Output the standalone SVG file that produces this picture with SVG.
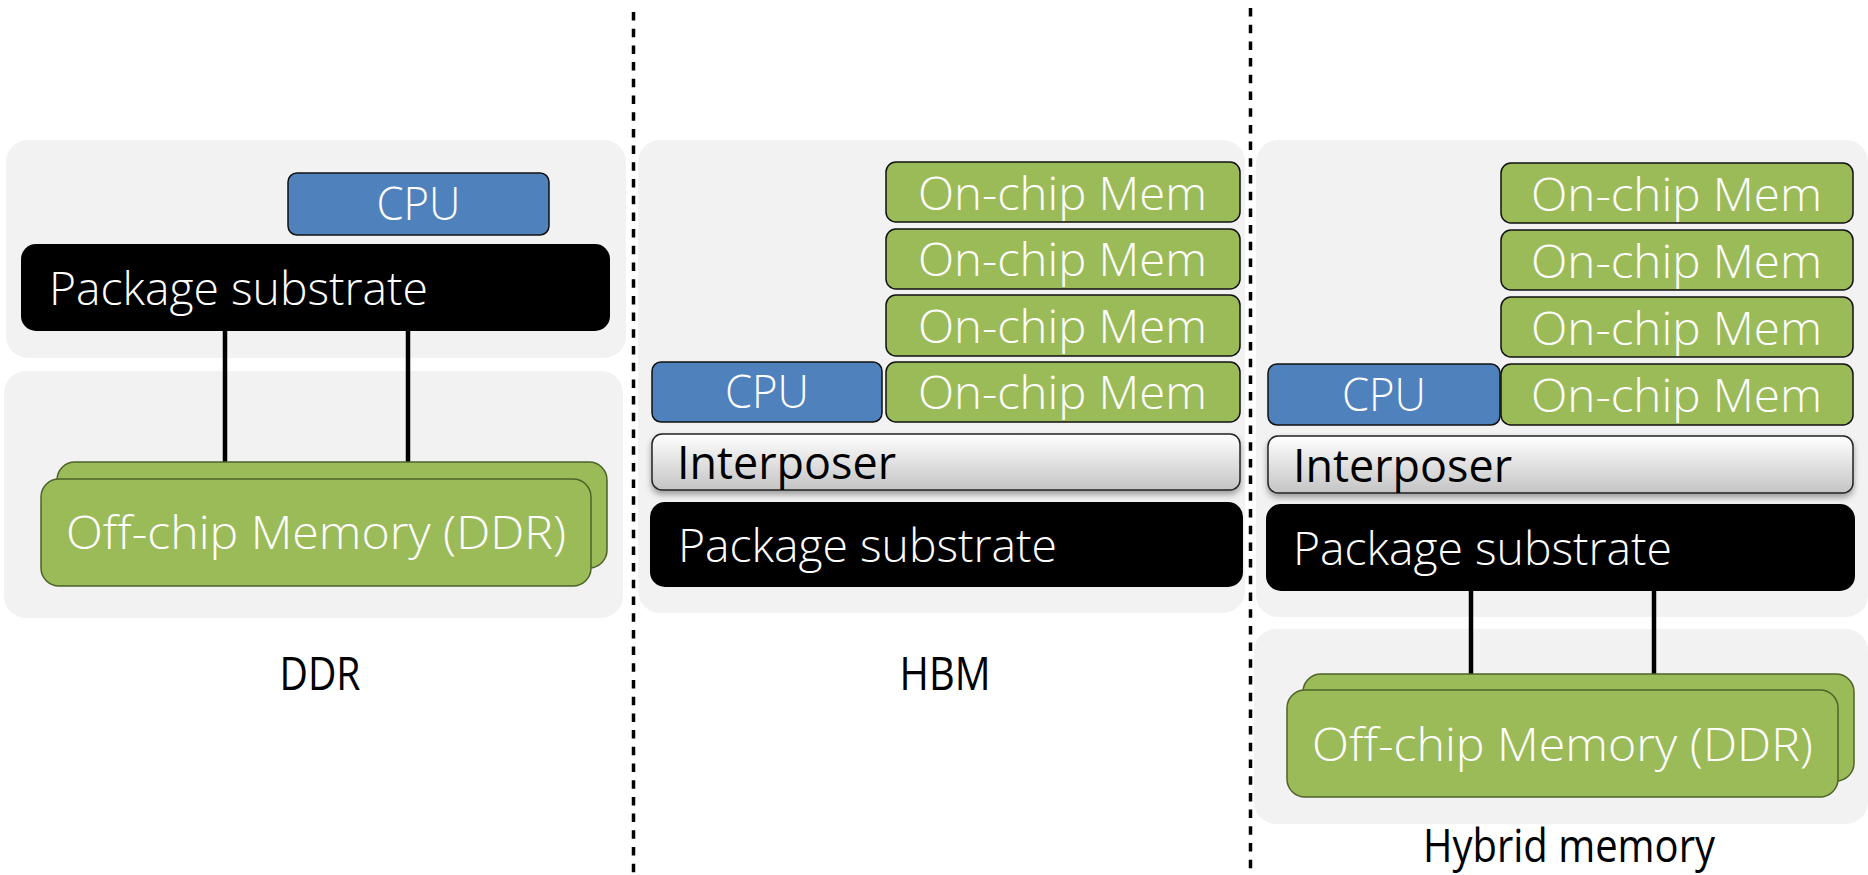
<svg xmlns="http://www.w3.org/2000/svg" width="1868" height="875" viewBox="0 0 1868 875">
<style>
.panel{fill:#F2F2F2}
.cpu{fill:#4F81BD;stroke:#111;stroke-width:1.5}
.mem{fill:#9BBB59;stroke:#111;stroke-width:1.5}
.off{fill:#9BBB59;stroke:#4F6228;stroke-width:1.5}
.sub{fill:#000}
.inter{fill:url(#gInter);stroke:#222;stroke-width:1.5;filter:url(#shadow)}
.wt{font-family:"Open Sans","Liberation Sans",sans-serif;font-weight:300;fill:#fff;font-size:46px}
.bt{font-family:"Open Sans","Liberation Sans",sans-serif;fill:#000;font-size:46px}
.lbl{font-family:"Open Sans","Liberation Sans",sans-serif;fill:#000;font-size:45px;text-anchor:middle}
.conn{stroke:#000;stroke-width:4.5;fill:none}
.sep{stroke:#000;stroke-width:3.5;stroke-dasharray:8.5 8.2;fill:none}
</style>
<defs>
<linearGradient id="gInter" x1="0" y1="0" x2="0" y2="1">
<stop offset="0" stop-color="#FFFFFF"/>
<stop offset="1" stop-color="#C4C4C4"/>
</linearGradient>
<filter id="shadow" x="-5%" y="-20%" width="110%" height="160%">
<feDropShadow dx="0" dy="4" stdDeviation="3" flood-color="#000" flood-opacity="0.35"/>
</filter>
</defs>

<g id="separators">
<line class="sep" x1="633.5" y1="12" x2="633.5" y2="875"/>
<line class="sep" x1="1250.5" y1="8" x2="1250.5" y2="875"/>
</g>

<g id="panels">
<rect class="panel" x="6" y="140" width="620" height="218" rx="22"/>
<rect class="panel" x="4" y="371" width="619" height="247" rx="22"/>
<rect class="panel" x="638" y="140" width="607" height="473" rx="22"/>
<rect class="panel" x="1256" y="140" width="612" height="477" rx="22"/>
<rect class="panel" x="1254" y="629" width="614" height="195" rx="22"/>
</g>

<g id="connectors">
<line class="conn" x1="225" y1="330" x2="225" y2="462"/>
<line class="conn" x1="408" y1="330" x2="408" y2="464"/>
<line class="conn" x1="1471" y1="590" x2="1471" y2="674"/>
<line class="conn" x1="1654" y1="590" x2="1654" y2="675"/>
</g>

<!-- DDR panel -->
<g id="ddr-cpu">
<rect class="cpu" x="288" y="173" width="261" height="62" rx="9"/>
<text class="wt" x="418.5" y="220" text-anchor="middle" textLength="84" lengthAdjust="spacingAndGlyphs">CPU</text>
</g>
<g id="ddr-substrate">
<rect class="sub" x="21" y="244" width="589" height="87" rx="15"/>
<text class="wt" x="49" y="305" textLength="379" lengthAdjust="spacingAndGlyphs">Package substrate</text>
</g>
<g id="ddr-offchip">
<rect class="off" x="57" y="462" width="550" height="106" rx="18"/>
<rect class="off" x="41" y="479" width="550" height="107" rx="18"/>
<text class="wt" x="66" y="549" textLength="500" lengthAdjust="spacingAndGlyphs">Off-chip Memory (DDR)</text>
</g>
<g id="ddr-label">
<text class="lbl" x="320" y="690" textLength="81" lengthAdjust="spacingAndGlyphs">DDR</text>
</g>

<!-- HBM panel -->
<g id="hbm-mem1">
<rect class="mem" x="886" y="162" width="354" height="60" rx="10"/>
<text class="wt" x="918" y="210" textLength="289" lengthAdjust="spacingAndGlyphs">On-chip Mem</text>
</g>
<g id="hbm-mem2">
<rect class="mem" x="886" y="229" width="354" height="60" rx="10"/>
<text class="wt" x="918" y="276" textLength="289" lengthAdjust="spacingAndGlyphs">On-chip Mem</text>
</g>
<g id="hbm-mem3">
<rect class="mem" x="886" y="295" width="354" height="61" rx="10"/>
<text class="wt" x="918" y="343" textLength="289" lengthAdjust="spacingAndGlyphs">On-chip Mem</text>
</g>
<g id="hbm-mem4">
<rect class="mem" x="886" y="362" width="354" height="60" rx="10"/>
<text class="wt" x="918" y="409" textLength="289" lengthAdjust="spacingAndGlyphs">On-chip Mem</text>
</g>
<g id="hbm-cpu">
<rect class="cpu" x="652" y="362" width="230" height="60" rx="9"/>
<text class="wt" x="767" y="408" text-anchor="middle" textLength="84" lengthAdjust="spacingAndGlyphs">CPU</text>
</g>
<g id="hbm-interposer">
<rect class="inter" x="652" y="434" width="588" height="56" rx="10"/>
<text class="bt" x="677" y="479" textLength="219" lengthAdjust="spacingAndGlyphs">Interposer</text>
</g>
<g id="hbm-substrate">
<rect class="sub" x="650" y="502" width="593" height="85" rx="15"/>
<text class="wt" x="678" y="562" textLength="379" lengthAdjust="spacingAndGlyphs">Package substrate</text>
</g>
<g id="hbm-label">
<text class="lbl" x="945" y="690" textLength="91" lengthAdjust="spacingAndGlyphs">HBM</text>
</g>

<!-- Hybrid panel -->
<g id="hyb-mem1">
<rect class="mem" x="1501" y="163" width="352" height="60" rx="10"/>
<text class="wt" x="1531" y="211" textLength="291" lengthAdjust="spacingAndGlyphs">On-chip Mem</text>
</g>
<g id="hyb-mem2">
<rect class="mem" x="1501" y="230" width="352" height="60" rx="10"/>
<text class="wt" x="1531" y="278" textLength="291" lengthAdjust="spacingAndGlyphs">On-chip Mem</text>
</g>
<g id="hyb-mem3">
<rect class="mem" x="1501" y="297" width="352" height="60" rx="10"/>
<text class="wt" x="1531" y="345" textLength="291" lengthAdjust="spacingAndGlyphs">On-chip Mem</text>
</g>
<g id="hyb-mem4">
<rect class="mem" x="1501" y="364" width="352" height="61" rx="10"/>
<text class="wt" x="1531" y="412" textLength="291" lengthAdjust="spacingAndGlyphs">On-chip Mem</text>
</g>
<g id="hyb-cpu">
<rect class="cpu" x="1268" y="364" width="232" height="61" rx="9"/>
<text class="wt" x="1384" y="411" text-anchor="middle" textLength="84" lengthAdjust="spacingAndGlyphs">CPU</text>
</g>
<g id="hyb-interposer">
<rect class="inter" x="1268" y="436" width="585" height="57" rx="10"/>
<text class="bt" x="1293" y="482" textLength="219" lengthAdjust="spacingAndGlyphs">Interposer</text>
</g>
<g id="hyb-substrate">
<rect class="sub" x="1266" y="504" width="589" height="87" rx="15"/>
<text class="wt" x="1293" y="565" textLength="379" lengthAdjust="spacingAndGlyphs">Package substrate</text>
</g>
<g id="hyb-offchip">
<rect class="off" x="1303" y="674" width="551" height="107" rx="18"/>
<rect class="off" x="1287" y="690" width="551" height="107" rx="18"/>
<text class="wt" x="1312" y="761" textLength="501" lengthAdjust="spacingAndGlyphs">Off-chip Memory (DDR)</text>
</g>
<g id="hyb-label">
<text class="lbl" x="1569" y="862" textLength="292" lengthAdjust="spacingAndGlyphs">Hybrid memory</text>
</g>
</svg>
